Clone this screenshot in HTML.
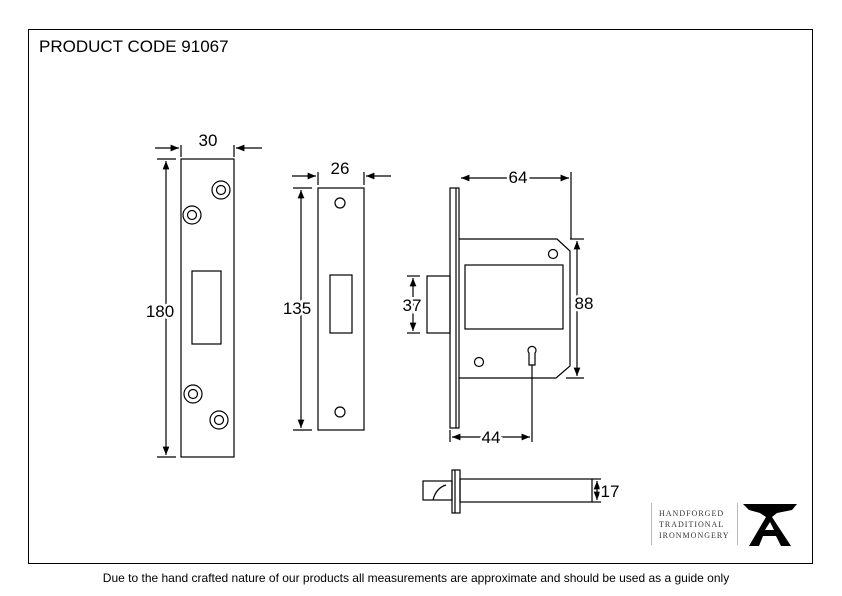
<!DOCTYPE html>
<html><head><meta charset="utf-8"><style>
html,body{margin:0;padding:0;background:#fff;}
svg{display:block;font-family:"Liberation Sans",sans-serif;}
</style></head><body>
<svg width="842" height="596" viewBox="0 0 842 596" xmlns="http://www.w3.org/2000/svg">
<defs>
<marker id="a" viewBox="0 0 10 10" refX="10" refY="5" markerWidth="7" markerHeight="7" orient="auto-start-reverse"><path d="M0,1 L10,5 L0,9 z" fill="#000"/></marker>
</defs>
<rect x="28.5" y="29.5" width="784" height="534" fill="none" stroke="#000" stroke-width="1"/>
<text x="39" y="52" font-size="17">PRODUCT CODE 91067</text>
<g fill="none" stroke="#000" stroke-width="1.2">
<rect x="181" y="159" width="53" height="298"/>
<rect x="192" y="271" width="29" height="73"/>
<circle cx="221" cy="190" r="9"/><circle cx="221" cy="190" r="4.5"/>
<circle cx="192" cy="215" r="9"/><circle cx="192" cy="215" r="4.5"/>
<circle cx="193" cy="394" r="9"/><circle cx="193" cy="394" r="4.5"/>
<circle cx="219" cy="420" r="9"/><circle cx="219" cy="420" r="4.5"/>
<line x1="157" y1="159" x2="176" y2="159"/><line x1="157" y1="457" x2="176" y2="457"/>
<line x1="166" y1="161" x2="166" y2="455" marker-start="url(#a)" marker-end="url(#a)"/>
<line x1="181" y1="145" x2="181" y2="157"/><line x1="234" y1="145" x2="234" y2="157"/>
<line x1="155" y1="148" x2="179" y2="148" marker-end="url(#a)"/>
<line x1="262" y1="148" x2="236" y2="148" marker-end="url(#a)"/>
<rect x="318" y="188" width="46" height="242"/>
<rect x="330" y="275" width="22" height="58"/>
<circle cx="340" cy="203" r="5"/><circle cx="340" cy="412" r="5"/>
<line x1="293" y1="188" x2="312" y2="188"/><line x1="293" y1="430" x2="312" y2="430"/>
<line x1="301" y1="190" x2="301" y2="428" marker-start="url(#a)" marker-end="url(#a)"/>
<line x1="318" y1="172" x2="318" y2="185"/><line x1="364" y1="172" x2="364" y2="185"/>
<line x1="292" y1="176" x2="316" y2="176" marker-end="url(#a)"/>
<line x1="391" y1="176" x2="366" y2="176" marker-end="url(#a)"/>
<rect x="450" y="188" width="9" height="240"/>
<line x1="456" y1="188" x2="456" y2="428"/>
<path d="M459,239 L557,239 L570,251 L570,366 L556,378 L459,378"/>
<rect x="465" y="265" width="98" height="64"/>
<circle cx="553" cy="254" r="4.5"/><circle cx="479" cy="362" r="4.5"/>
<path d="M529,353 L529,365 L535,365 L535,353 A4,4 0 1 0 529,353 Z"/>
<rect x="427" y="276" width="23" height="57"/>
<line x1="407" y1="276" x2="420" y2="276"/><line x1="407" y1="333" x2="420" y2="333"/>
<line x1="413" y1="278" x2="413" y2="331" marker-start="url(#a)" marker-end="url(#a)"/>
<line x1="571" y1="172" x2="571" y2="239"/>
<line x1="461" y1="178" x2="569" y2="178" marker-start="url(#a)" marker-end="url(#a)"/>
<line x1="570" y1="239" x2="584" y2="239"/><line x1="566" y1="378" x2="584" y2="378"/>
<line x1="577" y1="241" x2="577" y2="376" marker-start="url(#a)" marker-end="url(#a)"/>
<line x1="532" y1="365" x2="532" y2="442"/>
<line x1="450" y1="430" x2="450" y2="442"/>
<line x1="452" y1="437" x2="530" y2="437" marker-start="url(#a)" marker-end="url(#a)"/>
<rect x="423" y="481" width="29" height="19"/>
<path d="M433,500 Q436,488 446,485"/>
<rect x="452" y="470" width="8" height="43"/>
<line x1="455" y1="470" x2="455" y2="513"/>
<rect x="460" y="479" width="132" height="23"/>
<line x1="592" y1="479" x2="601" y2="479"/><line x1="592" y1="502" x2="601" y2="502"/>
<line x1="597" y1="481" x2="597" y2="500" marker-start="url(#a)" marker-end="url(#a)"/>
</g>
<g font-size="17" text-anchor="middle" stroke="#fff" stroke-width="5" paint-order="stroke" fill="#000">
<text x="208" y="146">30</text>
<text x="160" y="317">180</text>
<text x="340" y="174">26</text>
<text x="297" y="314">135</text>
<text x="518" y="183">64</text>
<text x="412" y="311">37</text>
<text x="584" y="309">88</text>
<text x="491" y="443">44</text>
<text x="610" y="497">17</text>
</g>
<line x1="651.5" y1="503" x2="651.5" y2="545" stroke="#bbb"/>
<line x1="737.5" y1="503" x2="737.5" y2="545" stroke="#bbb"/>
<g font-family="Liberation Serif,serif" font-size="8" letter-spacing="1" fill="#333">
<text x="659" y="516">HANDFORGED</text>
<text x="659" y="527">TRADITIONAL</text>
<text x="659" y="538">IRONMONGERY</text>
</g>
<path d="M743,504 L797,504 L792,510 L777,513 L772,517 L791,546 L781,546 L776,536 L763,536 L759,546 L749,546 L766,517 L760,513 L749,510 Z M765,530 L774,530 L770,522 Z" fill="#000" fill-rule="evenodd"/>
<text x="416" y="582" font-size="12" text-anchor="middle">Due to the hand crafted nature of our products all measurements are approximate and should be used as a guide only</text>
</svg>
</body></html>
